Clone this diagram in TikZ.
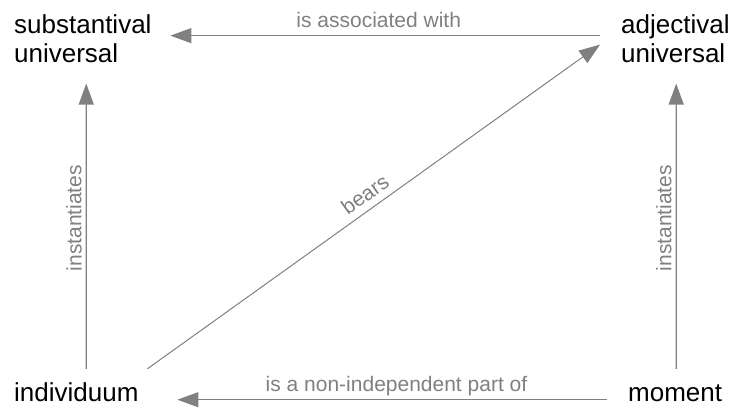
\documentclass[tikz,border=0pt]{standalone}
\usepackage{fontspec}
\setmainfont{Liberation Sans}
\usetikzlibrary{arrows.meta, positioning}
\definecolor{linegray}{RGB}{128,128,128}
\tikzset{
  concept/.style={
    inner sep=0pt,
    font=\fontsize{26pt}{28.4pt}\selectfont
  },
  arrow/.style={-{Triangle[length=21pt, width=15pt]}, line width=1.2pt, draw=linegray},
  relation/.style={font=\fontsize{21pt}{24pt}\selectfont, text=linegray, inner sep=0pt}
}

\begin{document}
\begin{tikzpicture}[x=1pt, y=1pt]
  \useasboundingbox (0,0) rectangle (732,408);

  \node[concept, align=left, anchor=north west] (subst) at (14,393.3) {substantival\\universal};
  \node[concept, align=left, anchor=north west] (adj)   at (621,393.3) {adjectival\\universal};
  \node[concept, anchor=base west, text height=19pt, text depth=0pt] (indiv)  at (14,7)  {individuum};
  \node[concept, anchor=base west, text height=19pt, text depth=0pt] (moment) at (628,7) {moment};

  % adjectival -> substantival
  \draw[arrow] ([xshift=-21pt, yshift=3pt]adj.west) --
    node[relation, pos=0.515, anchor=base, yshift=8pt] {is associated with}
    ([xshift=18.7pt, yshift=3pt]subst.east);

  % individuum -> substantival
  \draw[arrow] ([xshift=10pt, yshift=13pt]indiv.north) --
    node[relation, sloped, allow upside down, pos=0.528, above=4pt] {instantiates}
    ([xshift=3.4pt, yshift=-21pt]subst.south);

  % moment -> adjectival
  \draw[arrow] ([xshift=1pt, yshift=13pt]moment.north) --
    node[relation, sloped, allow upside down, pos=0.528, above=4pt] {instantiates}
    ([xshift=0.8pt, yshift=-21pt]adj.south);

  % individuum -> adjectival
  \draw[arrow, line width=1pt] ([xshift=8.7pt, yshift=13pt]indiv.north east) --
    node[relation, sloped, midway, above=7pt] {bears}
    ([xshift=-21pt, yshift=-6pt]adj.west);

  % moment -> individuum
  \draw[arrow] ([xshift=-21pt, yshift=-8.2pt]moment.west) --
    node[relation, pos=0.49, anchor=base, yshift=8.5pt] {is a non-independent part of}
    ([xshift=38.7pt, yshift=-8.2pt]indiv.east);
\end{tikzpicture}
\end{document}
